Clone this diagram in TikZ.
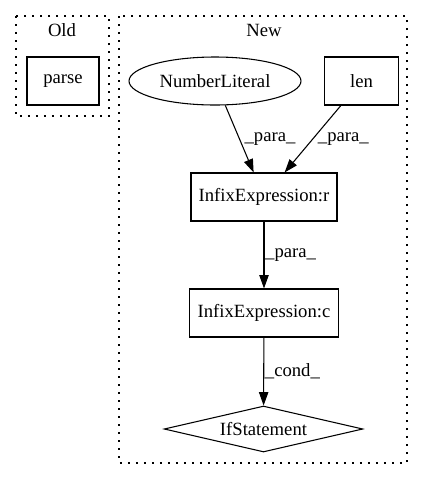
\documentclass[tikz,border=0pt]{standalone}
\usepackage{fontspec}
\setmainfont{Liberation Serif}
\usetikzlibrary{arrows.meta,shapes.geometric}
\begin{document}
\begin{tikzpicture}[x=0.75pt,y=-0.75pt,
  font=\fontsize{14}{16}\selectfont,
  box/.style={draw,line width=0.8pt,rectangle,minimum height=36pt,inner sep=2pt},
  lit/.style={draw,line width=0.8pt,ellipse,minimum width=129pt,minimum height=36pt,inner sep=1pt},
  cond/.style={draw,line width=0.8pt,diamond,shape aspect=4.3,minimum width=149pt,minimum height=34.5pt,inner sep=1pt},
  edge/.style={line width=0.8pt,-{Triangle[length=10pt,width=7pt]}},
  lbl/.style={midway,right,inner sep=0.5pt},
  cluster/.style={line width=1.2pt,dash pattern=on 1.2pt off 4.8pt}]
\useasboundingbox (0,0) rectangle (424,480);
% clusters
\draw[cluster] (16,16) rectangle (109,116);
\draw[cluster] (119,16) rectangle (407,463);
\node (oldlbl) at (62,30) {Old};
\node (newlbl) at (264,30) {New};
% nodes
\node[box,minimum width=54pt] (parse) at (63,81) {parse};
\node[lit] (numlit) at (215,81) {NumberLiteral};
\node[box,minimum width=55pt] (len) at (361.5,81) {len};
\node[box,minimum width=109.5pt] (infr) at (264,197) {InfixExpression:r};
\node[box,minimum width=112pt] (infc) at (264,313) {InfixExpression:c};
\node[cond] (ifst) at (263.5,429) {IfStatement};
% edges
\draw[edge] (numlit) -- (infr) node[lbl,xshift=3pt] {\_para\_};
\draw[edge] (len) -- (infr) node[lbl,xshift=3pt] {\_para\_};
\draw[edge] (infr) -- (infc) node[lbl] {\_para\_};
\draw[edge] (infc) -- (ifst) node[lbl] {\_cond\_};
\end{tikzpicture}
\end{document}
